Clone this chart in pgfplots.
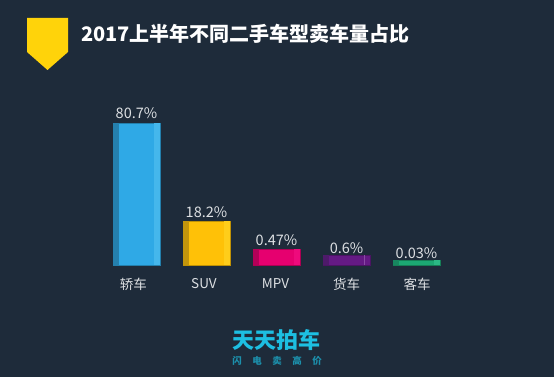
\documentclass[border=0pt]{standalone}
\usepackage{fontspec}
\setmainfont{Noto Sans CJK SC}
\usepackage{pgfplots}
\pgfplotsset{compat=1.18}
\definecolor{bg}{HTML}{1E2B3A}
\definecolor{txt}{HTML}{DDE0E3}
\definecolor{shield}{HTML}{FFD30A}
\definecolor{logoA}{HTML}{1DBFE2}
\definecolor{logoB}{HTML}{1C8FAB}
\definecolor{blueM}{HTML}{2FA9E6}\definecolor{blueD}{HTML}{2580AE}\definecolor{blueL}{HTML}{45B7EC}
\definecolor{yelM}{HTML}{FFC107}\definecolor{yelD}{HTML}{C4960C}\definecolor{yelL}{HTML}{FFCD1A}
\definecolor{pinkM}{HTML}{E6006F}\definecolor{pinkD}{HTML}{B30058}\definecolor{pinkL}{HTML}{EE0A7C}
\definecolor{purM}{HTML}{641A84}\definecolor{purD}{HTML}{4E1A6A}\definecolor{purL}{HTML}{8A4AA5}
\definecolor{greM}{HTML}{1CA873}\definecolor{greD}{HTML}{17865F}\definecolor{greL}{HTML}{2BB884}
\pgfplotsset{
  mainbar/.style={ybar, bar width=47pt, bar shift=0pt, draw=#1!75!black, line width=0.4pt, fill=#1},
  darkbar/.style={ybar, bar width=6pt, bar shift=-20.5pt, draw=none, fill=#1},
  lightbar/.style={ybar, bar width=6pt, bar shift=20.5pt, draw=none, fill=#1},
}
\begin{document}
\begin{tikzpicture}[x=1pt,y=1pt]
\fill[bg] (0,0) rectangle (554,377);
\fill[shield] (27,359) -- (68,359) -- (68,325) -- (47.5,307) -- (27,325) -- cycle;
\node[anchor=west,inner sep=0pt,text=white,font=\fontsize{20}{24}\selectfont\bfseries] at (81,343.5) {2017上半年不同二手车型卖车量占比};
\node[inner sep=0pt,text=logoA,font=\fontsize{22}{26}\selectfont\bfseries] at (276,37) {天天拍车};
\foreach \c/\x in {闪/237,电/257,卖/277,高/297,价/317}
  \node[inner sep=0pt,text=logoB,font=\fontsize{9.5}{10}\selectfont\bfseries] at (\x,16) {\c};
\begin{axis}[
  at={(66.5pt,112pt)}, anchor=south west,
  scale only axis, width=420pt, height=150pt,
  xmin=-1, xmax=5, ymin=0, ymax=150,
  axis line style={draw=none}, major tick length=0pt,
  ytick=\empty,
  xtick={-0.043,0.964,1.986,3,4.01},
  xticklabels={轿车,SUV,MPV,货车,客车},
  x tick label style={text=txt,font=\fontsize{13.5}{16}\selectfont,yshift=-10pt},
  every node near coord/.style={text=txt,font=\fontsize{14.5}{16}\selectfont,anchor=south,inner sep=0pt,yshift=3pt},
  clip=false,
]
\addplot[mainbar=blueM, nodes near coords={80.7\%}, every node near coord/.append style={yshift=1pt}] coordinates {(0,142)};
\addplot[darkbar=blueD] coordinates {(0,142)};
\addplot[lightbar=blueL] coordinates {(0,142)};
\addplot[mainbar=yelM, nodes near coords={18.2\%}] coordinates {(1,44)};
\addplot[darkbar=yelD] coordinates {(1,44)};
\addplot[lightbar=yelL] coordinates {(1,44)};
\addplot[mainbar=pinkM, nodes near coords={0.47\%}] coordinates {(2,16)};
\addplot[darkbar=pinkD] coordinates {(2,16)};
\addplot[lightbar=pinkL] coordinates {(2,16)};
\addplot[mainbar=purM, nodes near coords={0.6\%}, every node near coord/.append style={yshift=-2pt}] coordinates {(3,10)};
\addplot[darkbar=purD] coordinates {(3,10)};
\addplot[ybar, bar width=1pt, bar shift=17.5pt, draw=none, fill=purL] coordinates {(3,10)};
\addplot[mainbar=greM, nodes near coords={0.03\%}, every node near coord/.append style={yshift=-2pt}] coordinates {(4,5)};
\addplot[darkbar=greD] coordinates {(4,5)};
\addplot[lightbar=greL] coordinates {(4,5)};
\end{axis}
\end{tikzpicture}
\end{document}
